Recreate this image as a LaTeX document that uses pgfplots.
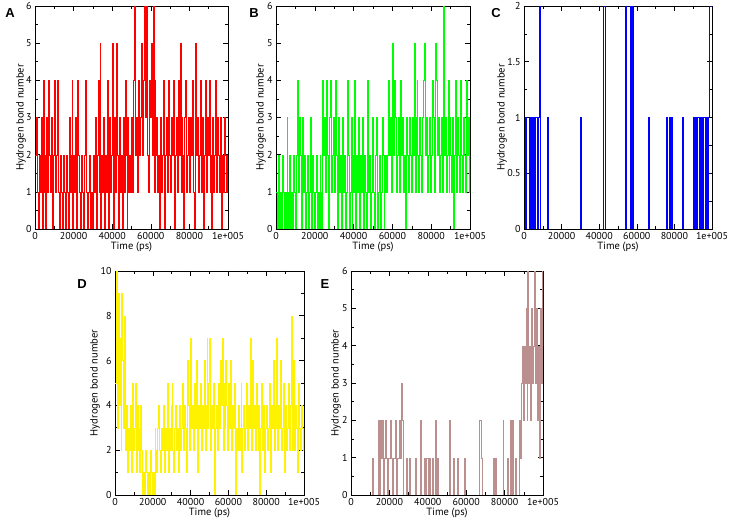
\documentclass[border=0pt]{standalone}
\usepackage{fontspec}
\setmainfont{PT Sans}
\newfontfamily\lettfont{Liberation Sans}
\usepackage{pgfplots}
\usepackage{pgfplotstable}
\pgfplotsset{compat=1.18}
\definecolor{gbrown}{RGB}{188,143,143}

\pgfplotsset{
  hb/.style={
    scale only axis, anchor=south west,
    xmin=0, xmax=100000,
    scaled x ticks=false,
    xtick={0,20000,40000,60000,80000,100000},
    xticklabels={0,20000,40000,60000,80000,1e+005},
    minor x tick num=1,
    tick align=inside, tick pos=both,
    major tick length=5pt, minor tick length=3pt,
    axis line style={line width=0.8pt},
    every tick/.style={black, line width=0.6pt},
    tick label style={font=\fontsize{10}{12}\selectfont},
    /pgf/number format/assume math mode=true,
    xlabel={Time (ps)}, ylabel={Hydrogen bond number},
    every axis x label/.style={at={(axis description cs:0.5,0)}, yshift=-18pt, anchor=center, font=\fontsize{10.5}{12}\selectfont},
    every axis y label/.style={at={(axis description cs:0,0.5)}, xshift=-#1, rotate=90, anchor=center, font=\fontsize{10.5}{12}\selectfont},
  },
  hbplot/.style={const plot, line width=0.3pt},
}

\pgfplotstableread[row sep=\\, header=false]{
2\\3\\1\\0\\2\\1\\3\\0\\4\\1\\
2\\0\\3\\1\\4\\2\\1\\3\\0\\2\\
4\\1\\2\\4\\1\\0\\2\\1\\0\\2\\
1\\0\\2\\1\\0\\3\\1\\2\\4\\0\\
2\\1\\3\\0\\4\\2\\1\\0\\2\\1\\
0\\2\\4\\1\\0\\1\\2\\0\\1\\0\\
2\\1\\3\\0\\2\\4\\1\\5\\0\\2\\
1\\3\\0\\2\\1\\4\\0\\3\\1\\2\\
5\\0\\3\\1\\5\\2\\0\\3\\1\\2\\
0\\3\\1\\4\\2\\0\\3\\1\\2\\1\\
3\\1\\4\\6\\2\\3\\1\\4\\2\\3\\
5\\2\\4\\6\\3\\6\\2\\1\\4\\3\\
5\\2\\6\\1\\4\\2\\3\\1\\2\\0\\
3\\1\\2\\4\\0\\2\\3\\1\\4\\2\\
1\\3\\2\\4\\0\\2\\3\\1\\4\\2\\
5\\1\\3\\2\\0\\3\\4\\1\\2\\3\\
1\\3\\2\\4\\1\\0\\5\\2\\3\\1\\
2\\4\\1\\3\\0\\2\\4\\1\\3\\2\\
4\\1\\2\\0\\3\\1\\2\\4\\1\\3\\
2\\1\\3\\0\\2\\1\\3\\2\\1\\2\\
2\\
}\dataA

\pgfplotstableread[row sep=\\, header=false]{
1\\0\\2\\0\\1\\0\\2\\1\\0\\1\\
0\\3\\1\\0\\2\\0\\1\\0\\2\\1\\
0\\2\\4\\1\\3\\2\\0\\3\\1\\2\\
0\\1\\2\\0\\1\\3\\0\\2\\1\\0\\
1\\2\\0\\1\\0\\2\\1\\0\\4\\2\\
3\\1\\4\\2\\0\\3\\4\\1\\2\\3\\
1\\4\\2\\0\\3\\1\\2\\0\\3\\1\\
2\\0\\1\\4\\2\\0\\1\\3\\0\\2\\
1\\4\\0\\2\\1\\3\\0\\2\\1\\3\\
0\\2\\1\\0\\4\\1\\2\\0\\1\\3\\
1\\0\\2\\3\\0\\1\\2\\0\\1\\3\\
2\\0\\1\\2\\1\\2\\4\\2\\3\\1\\
5\\2\\4\\3\\1\\2\\3\\1\\4\\2\\
3\\1\\2\\0\\3\\2\\1\\3\\2\\1\\
3\\2\\5\\1\\3\\4\\2\\1\\3\\2\\
1\\3\\4\\5\\2\\3\\1\\2\\3\\1\\
2\\4\\3\\1\\5\\4\\2\\3\\1\\2\\
3\\1\\6\\2\\3\\1\\2\\4\\1\\3\\
2\\1\\3\\0\\2\\4\\1\\3\\2\\1\\
4\\2\\1\\3\\2\\1\\4\\2\\3\\1\\
2\\
}\dataB

\pgfplotstableread[row sep=\\, header=false]{
0\\1\\0\\0\\0\\0\\1\\0\\1\\0\\
1\\0\\1\\1\\0\\1\\2\\0\\0\\0\\
0\\0\\0\\0\\0\\1\\0\\0\\0\\0\\
0\\0\\0\\0\\0\\0\\0\\0\\0\\0\\
0\\0\\0\\0\\0\\0\\0\\0\\0\\0\\
0\\0\\0\\0\\0\\0\\0\\0\\0\\0\\
1\\0\\0\\0\\0\\0\\0\\0\\0\\0\\
0\\0\\0\\0\\0\\0\\0\\0\\0\\0\\
0\\0\\0\\0\\2\\2\\0\\0\\0\\0\\
0\\0\\0\\0\\0\\0\\0\\0\\0\\0\\
0\\0\\0\\0\\0\\0\\0\\0\\2\\0\\
0\\0\\0\\2\\0\\2\\0\\0\\0\\0\\
0\\0\\0\\0\\0\\0\\0\\0\\0\\0\\
0\\0\\1\\0\\0\\0\\0\\0\\0\\0\\
0\\0\\0\\0\\0\\0\\0\\0\\0\\0\\
0\\1\\0\\0\\1\\0\\0\\1\\0\\0\\
0\\0\\0\\0\\0\\0\\0\\0\\1\\0\\
0\\0\\0\\0\\0\\0\\0\\0\\0\\0\\
1\\0\\1\\0\\1\\1\\0\\1\\0\\1\\
0\\1\\1\\0\\1\\0\\1\\2\\2\\2\\
2\\
}\dataC

\pgfplotstableread[row sep=\\, header=false]{
5\\10\\3\\9\\4\\7\\2\\9\\6\\3\\
8\\2\\4\\1\\3\\2\\4\\1\\5\\2\\
3\\5\\1\\4\\2\\3\\1\\4\\2\\0\\
1\\0\\2\\1\\0\\1\\0\\2\\1\\0\\
1\\0\\3\\2\\1\\3\\4\\2\\1\\3\\
2\\4\\1\\3\\2\\5\\1\\3\\2\\4\\
5\\2\\1\\3\\4\\2\\3\\1\\4\\2\\
3\\5\\2\\4\\3\\1\\6\\4\\2\\5\\
7\\3\\4\\2\\5\\3\\6\\1\\4\\3\\
5\\2\\4\\3\\6\\2\\4\\7\\3\\5\\
7\\2\\4\\3\\5\\0\\3\\4\\2\\5\\
3\\6\\4\\7\\2\\5\\3\\6\\4\\2\\
5\\3\\6\\2\\4\\3\\5\\0\\3\\2\\
4\\2\\3\\5\\1\\3\\4\\2\\3\\5\\
2\\4\\3\\7\\2\\6\\3\\4\\2\\5\\
3\\2\\4\\0\\3\\5\\2\\4\\1\\3\\
4\\2\\3\\5\\1\\4\\3\\6\\2\\4\\
3\\7\\2\\4\\3\\6\\2\\3\\5\\1\\
4\\2\\3\\5\\2\\4\\8\\2\\3\\6\\
2\\4\\3\\1\\5\\3\\2\\4\\3\\2\\
3\\
}\dataD

\pgfplotstableread[row sep=\\, header=false]{
0\\0\\0\\0\\0\\0\\0\\0\\0\\0\\
0\\0\\0\\0\\0\\0\\0\\0\\0\\0\\
0\\0\\1\\0\\0\\0\\0\\0\\2\\0\\
2\\1\\2\\1\\0\\1\\2\\1\\0\\1\\
1\\2\\1\\0\\1\\1\\2\\0\\1\\1\\
2\\1\\3\\2\\0\\0\\0\\1\\0\\0\\
0\\1\\0\\0\\0\\0\\0\\1\\0\\0\\
0\\0\\2\\0\\0\\0\\1\\0\\1\\1\\
0\\1\\0\\0\\0\\1\\0\\0\\2\\0\\
1\\0\\0\\0\\0\\0\\0\\0\\0\\0\\
0\\0\\2\\0\\0\\0\\1\\0\\0\\0\\
0\\1\\0\\0\\0\\0\\0\\0\\1\\0\\
0\\0\\0\\0\\0\\0\\0\\0\\0\\0\\
0\\0\\0\\0\\2\\2\\1\\0\\0\\0\\
0\\0\\0\\0\\0\\0\\0\\0\\1\\0\\
1\\0\\0\\0\\0\\0\\0\\0\\2\\0\\
0\\0\\0\\1\\0\\0\\2\\0\\2\\0\\
0\\1\\0\\0\\0\\2\\1\\3\\4\\2\\
4\\3\\5\\2\\6\\3\\4\\2\\5\\3\\
4\\6\\3\\5\\2\\4\\1\\5\\3\\6\\
4\\
}\dataE

\begin{document}
\begin{tikzpicture}[x=1pt,y=1pt]
\useasboundingbox (0,0) rectangle (729,520);

% Panel A
\begin{axis}[hb=14pt, at={(35pt,291pt)}, width=193pt, height=223pt,
  ymin=0, ymax=6, ytick={0,1,...,6}, minor y tick num=1]
  \addplot[hbplot, color=red] table[x expr=\coordindex*500, y index=0] {\dataA};
\end{axis}
\node[font=\lettfont\bfseries\fontsize{13}{13}\selectfont] at (10,507) {A};

% Panel B
\begin{axis}[hb=15pt, at={(276pt,291pt)}, width=194pt, height=223pt,
  ymin=0, ymax=6, ytick={0,1,...,6}, minor y tick num=1]
  \addplot[hbplot, color=green] table[x expr=\coordindex*500, y index=0] {\dataB};
\end{axis}
\node[font=\lettfont\bfseries\fontsize{13}{13}\selectfont] at (254,507) {B};

% Panel C
\begin{axis}[hb=22pt, at={(524pt,291pt)}, width=188pt, height=223pt,
  ymin=0, ymax=2, ytick={0,0.5,1,1.5,2}, minor y tick num=1]
  \addplot[hbplot, color=blue] table[x expr=\coordindex*500, y index=0] {\dataC};
\end{axis}
\node[font=\lettfont\bfseries\fontsize{13}{13}\selectfont] at (496,507) {C};

% Panel D
\begin{axis}[hb=20pt, at={(115pt,25pt)}, width=189pt, height=224pt,
  ymin=0, ymax=10, ytick={0,2,...,10}, minor y tick num=1]
  \addplot[hbplot, color=yellow] table[x expr=\coordindex*500, y index=0] {\dataD};
\end{axis}
\node[font=\lettfont\bfseries\fontsize{13}{13}\selectfont] at (82,236) {D};

% Panel E
\begin{axis}[hb=15pt, at={(351pt,25pt)}, width=192pt, height=224pt,
  ymin=0, ymax=6, ytick={0,1,...,6}, minor y tick num=1]
  \addplot[hbplot, color=gbrown] table[x expr=\coordindex*500, y index=0] {\dataE};
\end{axis}
\node[font=\lettfont\bfseries\fontsize{13}{13}\selectfont] at (325,236) {E};
\end{tikzpicture}
\end{document}
